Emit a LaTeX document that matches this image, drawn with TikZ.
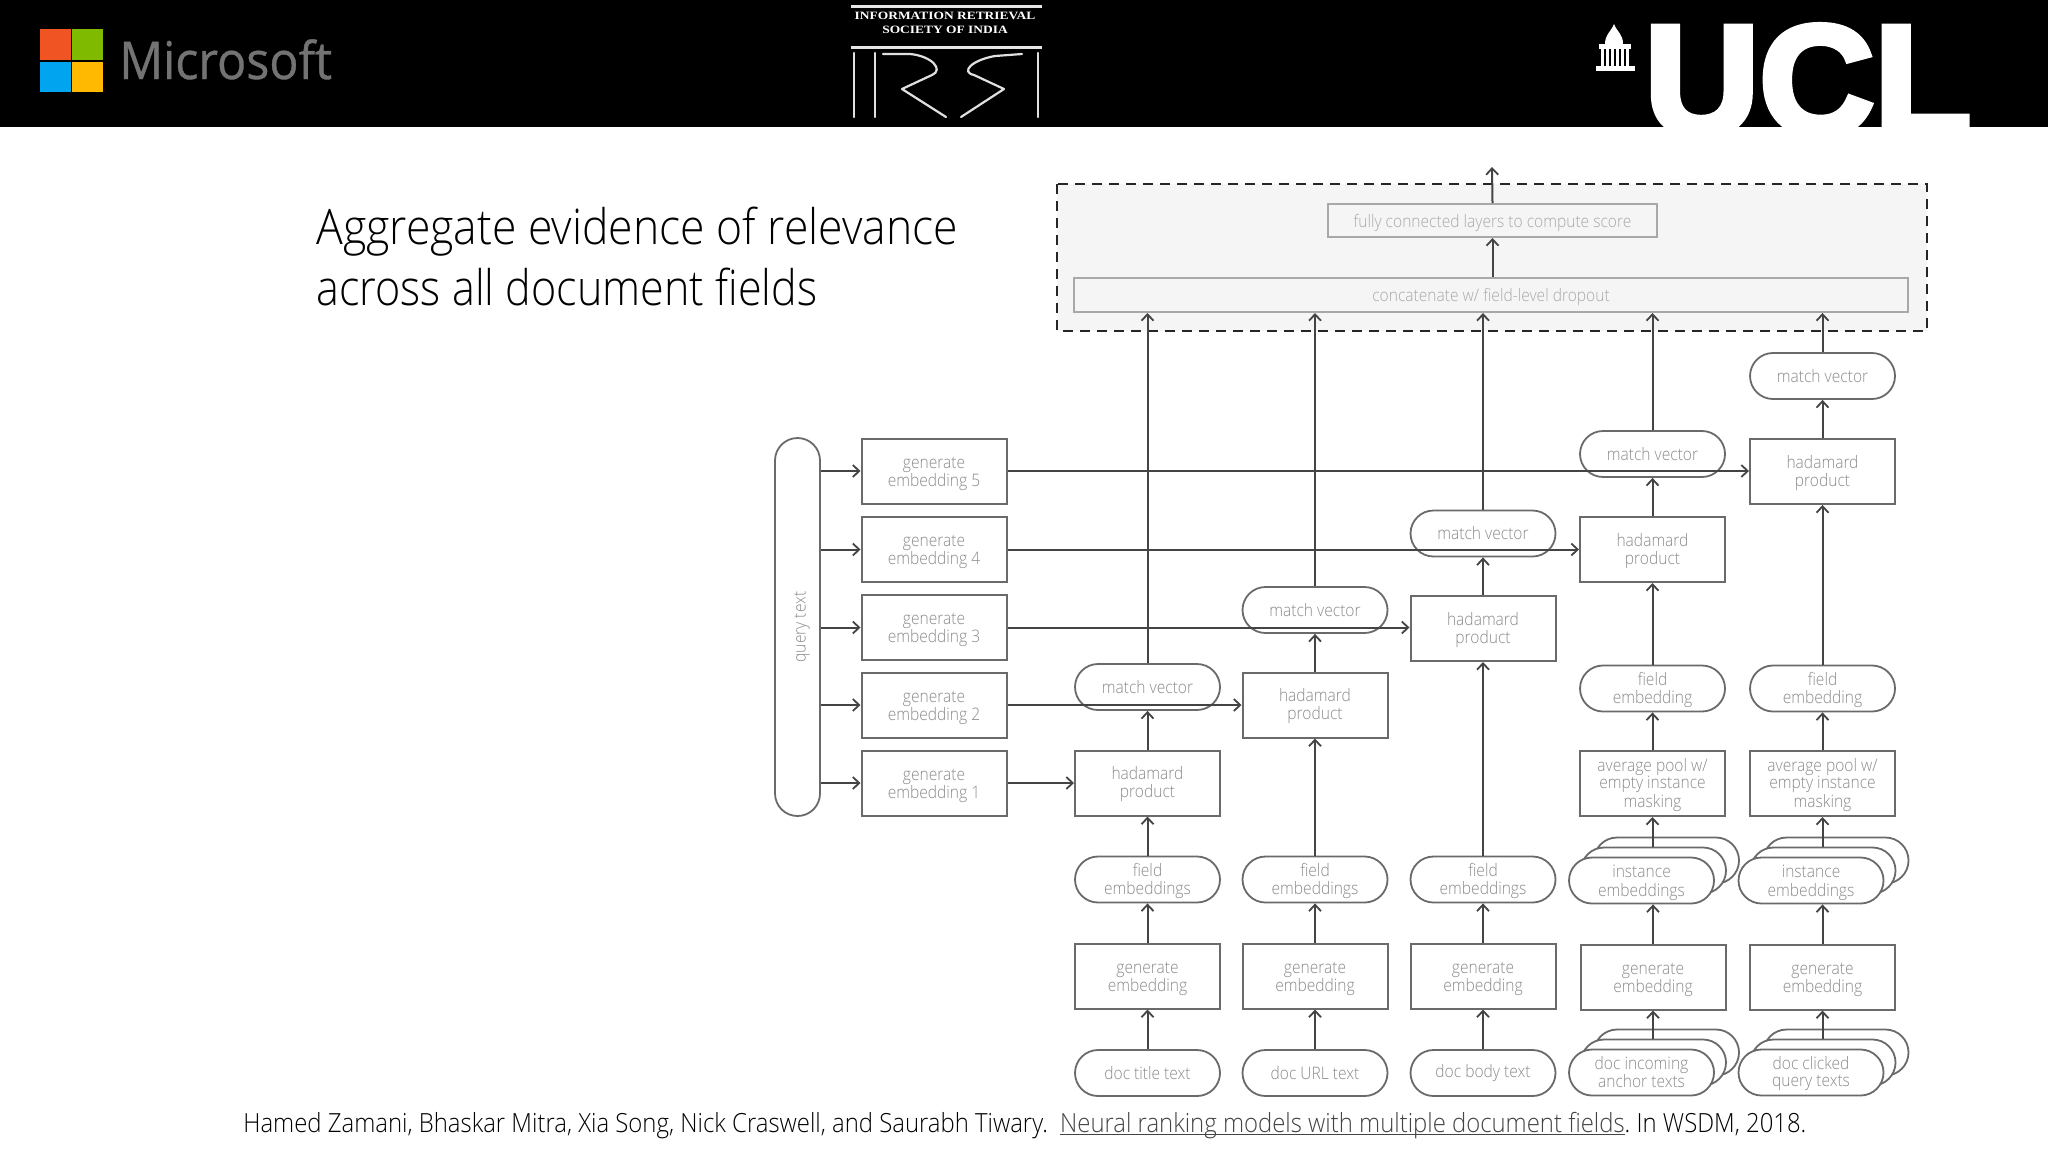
\documentclass[tikz,border=0pt]{standalone}
\usepackage{fontspec}
\usetikzlibrary{arrows.meta,shapes.misc}
\setmainfont[FakeStretch=0.905]{Open Sans Light}
\newfontfamily\msfont[FakeStretch=0.93,FakeBold=0.7]{Open Sans}
\newfontfamily\irsifont[FakeStretch=1.2]{Liberation Serif}
\newfontfamily\uclfont[FakeBold=4]{Liberation Sans Bold}
\definecolor{lbl}{HTML}{8A8A8A}
\definecolor{lbllt}{HTML}{A8A8A8}
\definecolor{edge}{HTML}{444444}
\definecolor{bord}{HTML}{6A6A6A}
\definecolor{panel}{HTML}{F5F5F5}
\newcommand\tl[2][-1.4pt]{\raisebox{#1}[\height][\depth]{\def\arraystretch{0.89}\begin{tabular}{@{}c@{}}#2\end{tabular}}}
\tikzset{
 x=0.5pt,y=-0.5pt,
 lab/.style={font=\fontsize{8.6}{9.8}\selectfont,text=lbl,align=center,inner sep=0pt},
 dn/.style={execute at begin node={\rule{0pt}{#1}}},
 dn/.default=9.2pt,
 boxn/.style={lab,draw=bord,line width=1pt,fill=white,rectangle,minimum width=72.5pt,minimum height=32.5pt},
 pill/.style={lab,draw=bord,line width=0.9pt,fill=white,rounded rectangle,minimum width=72.5pt,minimum height=23pt},
 wide/.style={lab,dn=9pt,text=lbllt,draw=lbllt,line width=1pt,fill=panel,rectangle},
 conn/.style={draw=edge,line width=1pt,-{Straight Barb[length=3.2pt,width=6pt,line width=0.9pt]}},
 irsi/.style={draw=white!88!black,line width=1.1pt,line cap=round,line join=round},
}
\begin{document}
\begin{tikzpicture}
\path[use as bounding box] (0,0) rectangle (2048,1152);
\fill[white] (0,0) rectangle (2048,1152);
% header
\fill[black] (0,0) rectangle (2048,127);
% Microsoft
\fill[fill={rgb,255:red,240;green,84;blue,35}] (40,29) rectangle (71,60);
\fill[fill={rgb,255:red,127;green,186;blue,0}] (72,29) rectangle (103,60);
\fill[fill={rgb,255:red,0;green,164;blue,239}] (40,62) rectangle (71,92);
\fill[fill={rgb,255:red,255;green,185;blue,0}] (72,62) rectangle (103,92);
\node[anchor=base west,inner sep=0pt,text=white!45!black,font=\msfont\fontsize{26}{26}\selectfont] (ms) at (119,79) {Microsoft};
% IRSI
\fill[white!90!black] (851,5) rectangle (1042,8);
\fill[white!90!black] (851,46) rectangle (1042,49);
\node[inner sep=0pt,text=white,font=\irsifont\bfseries\fontsize{5.6}{6}\selectfont] (ir1) at (945,16) {INFORMATION RETRIEVAL};
\node[inner sep=0pt,text=white,font=\irsifont\bfseries\fontsize{5.6}{6}\selectfont] (ir2) at (945,30) {SOCIETY OF INDIA};
\draw[irsi] (854,53) -- (854,117) (875,53) -- (875,117);
\draw[irsi] (883,54) -- (910,54) .. controls (932,56) and (944,70) .. (932,75) -- (902,89) -- (946,117);
\draw[irsi] (1022,54) -- (995,56) .. controls (972,60) and (960,72) .. (974,75) -- (1004,89) -- (961,117);
\draw[irsi] (1038,53) -- (1038,117);
% UCL
\begin{scope}
\clip (1560,0) rectangle (2048,127);
\node[anchor=base west,inner sep=0pt,text=white,font=\uclfont\fontsize{78}{78}\selectfont] (ucl) at (1644,134) {\scalebox{1.02}[1]{UCL}};
\end{scope}
\fill[white] (1596,71) -- (1635,71) -- (1635,66) -- (1596,66) -- cycle;
\fill[white] (1599,49) rectangle (1631,44);
\foreach \cx in {1601,1606,1611,1616,1621,1626}{\fill[white] (\cx,49) rectangle (\cx+3,66);}
\fill[white] (1605,44) .. controls (1605,34) and (1611,32) .. (1614,24) .. controls (1617,32) and (1623,34) .. (1623,44) -- cycle;
% title
\node[anchor=base west,inner sep=0pt,font=\fontsize{24.5}{24.5}\selectfont] (t1) at (316,244) {\scalebox{1.004}[1]{Aggregate evidence of relevance}};
\node[anchor=base west,inner sep=0pt,font=\fontsize{24.5}{24.5}\selectfont] (t2) at (316,305) {\scalebox{0.972}[1]{across all document fields}};
% citation
\node[anchor=base west,inner sep=0pt,font=\fontsize{13.2}{14}\selectfont,text=black] (cite) at (243,1132) {Hamed Zamani, Bhaskar Mitra, Xia Song, Nick Craswell, and Saurabh Tiwary.\hspace{2pt} {\color{edge}\underline{\smash{Neural ranking models with multiple document fields}}}.\hspace{-1pt} In WSDM, 2018.};
% dashed panel
\draw[draw=black!85,line width=1.3pt,fill=panel,dash pattern=on 5pt off 3.5pt] (1057,184) rectangle (1927,331);
\node[wide,minimum width=164.5pt,minimum height=16.5pt] (fc) at (1492.5,220.5) {fully connected layers to compute score};
\node[wide,minimum width=417pt,minimum height=17pt] (cc) at (1491,295) {concatenate w/ field-level dropout};
\coordinate (out) at (1492,167);
% query
\node[lab,dn=10.3pt,draw=bord,line width=0.9pt,fill=white,rounded rectangle,rotate=90,minimum width=189pt,minimum height=22.5pt] (q) at (797.5,627) {query text};
% generate embedding i
\node[boxn] (g5) at (934,471) {\tl{generate\\embedding 5}};
\node[boxn] (g4) at (934,549.5) {\tl{generate\\embedding 4}};
\node[boxn] (g3) at (934,627.5) {\tl{generate\\embedding 3}};
\node[boxn] (g2) at (934,705) {\tl{generate\\embedding 2}};
\node[boxn] (g1) at (934,783) {\tl{generate\\embedding 1}};
% hadamard
\node[boxn] (h1) at (1147.5,783) {\tl[-0.9pt]{hadamard\\product}};
\node[boxn] (h2) at (1315,705) {\tl[-0.9pt]{hadamard\\product}};
\node[boxn] (h3) at (1483,628.5) {\tl[-0.9pt]{hadamard\\product}};
\node[boxn] (h4) at (1652.5,549.5) {\tl[-0.9pt]{hadamard\\product}};
\node[boxn] (h5) at (1822.5,471.5) {\tl[-0.9pt]{hadamard\\product}};
% match vector
\node[pill] (m1) at (1147.5,687) {match vector};
\node[pill] (m2) at (1315,610) {match vector};
\node[pill] (m3) at (1483,533.5) {match vector};
\node[pill] (m4) at (1652.5,454) {match vector};
\node[pill] (m5) at (1822.5,376) {match vector};
% field embeddings cols 1-3
\node[pill] (f1) at (1147.5,879.5) {\tl[-0.9pt]{field\\embeddings}};
\node[pill] (f2) at (1315,879.5) {\tl[-0.9pt]{field\\embeddings}};
\node[pill] (f3) at (1483,879.5) {\tl[-0.9pt]{field\\embeddings}};
\node[boxn] (e1) at (1147.5,976) {\tl{generate\\embedding}};
\node[boxn] (e2) at (1315,976) {\tl{generate\\embedding}};
\node[boxn] (e3) at (1483,976) {\tl{generate\\embedding}};
\node[pill] (d1) at (1147.5,1073) {doc title text};
\node[pill] (d2) at (1315,1073) {doc URL text};
\node[pill] (d3) at (1483,1073) {doc body text};
% col 4-5
\node[pill] (f4) at (1652.5,688.5) {\tl[-0.9pt]{field\\embedding}};
\node[pill] (f5) at (1822.5,688.5) {\tl[-0.9pt]{field\\embedding}};
\node[boxn] (a4) at (1652.5,783.5) {\tl[-0.9pt]{average pool w/\\empty instance\\masking}};
\node[boxn] (a5) at (1822.5,783.5) {\tl[-0.9pt]{average pool w/\\empty instance\\masking}};
\node[boxn] (e4) at (1653,977) {\tl{generate\\embedding}};
\node[boxn] (e5) at (1822.5,977) {\tl{generate\\embedding}};
% instance stacks
\node[pill] (i4c) at (1666.5,860.5) {};
\node[pill] (i4b) at (1653.5,870.5) {};
\node[pill] (i4a) at (1641.5,880.5) {\tl{instance\\embeddings}};
\node[pill] (i5c) at (1836,860.5) {};
\node[pill] (i5b) at (1823,870.5) {};
\node[pill] (i5a) at (1811,880.5) {\tl{instance\\embeddings}};
% doc stacks
\node[pill] (s4c) at (1666.5,1052.5) {};
\node[pill] (s4b) at (1653.5,1062.5) {};
\node[pill] (s4a) at (1641.5,1072.5) {\tl[-0.9pt]{doc incoming\\anchor texts}};
\node[pill] (s5c) at (1836,1052.5) {};
\node[pill] (s5b) at (1823,1062.5) {};
\node[pill] (s5a) at (1811,1072.5) {\tl[-0.9pt]{doc clicked\\query texts}};
% connectors
\draw[conn] (fc.north) -- (out);
\draw[conn] (cc.north -| fc.south) -- (fc.south);
\foreach \n in {1,2,3,4,5}{
 \draw[conn] (q.south |- g\n.west) -- (g\n.west);
 \draw[conn] (h\n.north) -- (m\n.south);
 \draw[conn] (m\n.north) -- (m\n.north |- cc.south);
 \draw[conn] (g\n.east) -- (h\n.west |- g\n.east);
}
\foreach \n in {1,2,3}{
 \draw[conn] (f\n.north) -- (h\n.south);
 \draw[conn] (e\n.north) -- (f\n.south);
 \draw[conn] (d\n.north) -- (e\n.south);
}
\foreach \n in {4,5}{
 \draw[conn] (f\n.north) -- (h\n.south);
 \draw[conn] (a\n.north) -- (f\n.south);
 \draw[conn] (a\n.south |- i\n b.north) -- (a\n.south);
 \draw[conn] (e\n.north) -- (e\n.north |- i\n a.south);
 \draw[conn] (e\n.south |- s\n b.north) -- (e\n.south);
}
\end{tikzpicture}
\end{document}
